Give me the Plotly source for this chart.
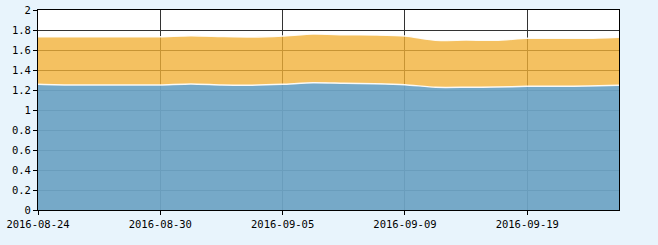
import plotly.graph_objects as go

dates = ["2016-08-24", "2016-08-25", "2016-08-26", "2016-08-29", "2016-08-30",
         "2016-08-31", "2016-09-01", "2016-09-02", "2016-09-05", "2016-09-06",
         "2016-09-07", "2016-09-08", "2016-09-09", "2016-09-12", "2016-09-13",
         "2016-09-14", "2016-09-19", "2016-09-20", "2016-09-21", "2016-09-22"]
series_a = [1.257, 1.250, 1.250, 1.250, 1.250, 1.260, 1.250, 1.248, 1.257, 1.273,
            1.267, 1.263, 1.253, 1.227, 1.227, 1.230, 1.237, 1.237, 1.240, 1.247]
series_b = [0.476, 0.483, 0.483, 0.483, 0.483, 0.483, 0.485, 0.482, 0.483, 0.487,
            0.486, 0.487, 0.487, 0.470, 0.473, 0.467, 0.480, 0.480, 0.477, 0.480]
x_tick_labels = ["2016-08-24", "2016-08-30", "2016-09-05", "2016-09-09", "2016-09-19"]
y_tick_vals = [0, 0.2, 0.4, 0.6, 0.8, 1, 1.2, 1.4, 1.6, 1.8, 2]

fig = go.Figure()
fig.add_trace(go.Scatter(
    x=dates, y=series_a, mode="lines", stackgroup="s",
    line=dict(color="rgba(255,255,255,0.9)", width=1.5, shape="spline", smoothing=0.6),
    fillcolor="rgba(109,164,197,0.94)", hoverinfo="x+y", showlegend=False))
fig.add_trace(go.Scatter(
    x=dates, y=series_b, mode="lines", stackgroup="s",
    line=dict(color="rgba(255,255,255,0.9)", width=1.5, shape="spline", smoothing=0.6),
    fillcolor="rgba(241,176,52,0.78)", hoverinfo="x+y", showlegend=False))

axis_font = dict(family="DejaVu Sans Mono", size=10.5, color="#000000")
fig.update_layout(
    width=658, height=245,
    margin=dict(l=38, r=39, t=10, b=35, autoexpand=False),
    paper_bgcolor="rgb(232,244,252)",
    plot_bgcolor="#ffffff",
    xaxis=dict(type="category", categoryorder="array", categoryarray=dates,
               range=[0, len(dates) - 1], automargin=False,
               tickmode="array", tickvals=x_tick_labels, ticktext=x_tick_labels,
               showgrid=True, gridcolor="#333333", gridwidth=1,
               ticks="outside", ticklen=4, tickcolor="#000000",
               showline=True, linecolor="#000000", linewidth=1, mirror=True,
               tickfont=axis_font, zeroline=False),
    yaxis=dict(range=[0, 2], tickmode="array", tickvals=y_tick_vals, automargin=False,
               ticktext=[("%g" % v) for v in y_tick_vals],
               showgrid=True, gridcolor="#333333", gridwidth=1,
               ticks="outside", ticklen=4, tickcolor="#000000",
               showline=True, linecolor="#000000", linewidth=1, mirror=True,
               tickfont=axis_font, zeroline=False),
)
fig.write_html("out.html")
